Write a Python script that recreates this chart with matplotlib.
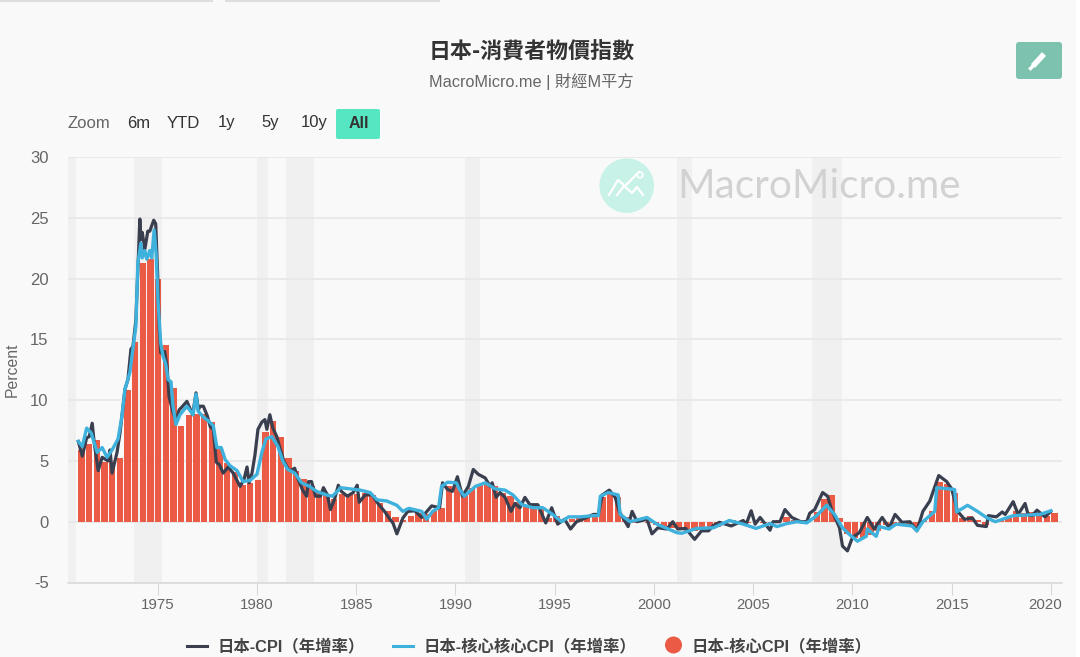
import matplotlib
matplotlib.use("Agg")
import matplotlib.pyplot as plt
from matplotlib.patches import Circle, FancyBboxPatch, Rectangle
from matplotlib.transforms import ScaledTranslation
import numpy as np

W = 1080
H = 657
CJK = ['Noto Sans CJK TC', 'DejaVu Sans']
LATIN = ['Liberation Sans', 'DejaVu Sans']
MIXED = ['Liberation Sans', 'Noto Sans CJK TC', 'DejaVu Sans']
plt.rcParams['axes.unicode_minus'] = False

# dark line: CPI
cpi_years = [1971.0, 1971.2, 1971.42, 1971.55, 1971.7, 1971.8, 1972.0, 1972.2, 1972.5, 1972.6, 1972.7, 1972.95,
             1973.1, 1973.35, 1973.5, 1973.65, 1973.75, 1973.9, 1974.1, 1974.15, 1974.22, 1974.35, 1974.5, 1974.6,
             1974.8, 1974.9, 1975.0, 1975.07, 1975.15, 1975.35, 1975.47, 1975.57, 1975.77, 1975.92, 1976.08, 1976.2,
             1976.47, 1976.6, 1976.76, 1976.93, 1977.05, 1977.13, 1977.3, 1977.5, 1977.65, 1977.8, 1977.95, 1978.1,
             1978.3, 1978.55, 1978.8, 1979.15, 1979.35, 1979.5, 1979.6, 1979.75, 1979.9, 1980.05, 1980.25, 1980.4,
             1980.5, 1980.65, 1980.8, 1981.0, 1981.15, 1981.35, 1981.55, 1981.7, 1981.9, 1982.05, 1982.3, 1982.5,
             1982.6, 1982.75, 1982.95, 1983.2, 1983.35, 1983.55, 1983.7, 1983.9, 1984.1, 1984.25, 1984.55, 1984.85,
             1985.05, 1985.15, 1985.45, 1985.8, 1986.1, 1986.45, 1986.7, 1986.85, 1987.05, 1987.35, 1987.6, 1987.95,
             1988.3, 1988.8, 1989.2, 1989.35, 1989.6, 1989.85, 1990.1, 1990.35, 1990.65, 1990.9, 1991.15, 1991.5,
             1991.75, 1991.85, 1992.05, 1992.25, 1992.5, 1992.8, 1993.0, 1993.25, 1993.5, 1993.75, 1994.15, 1994.55,
             1994.85, 1995.15, 1995.5, 1995.8, 1996.1, 1996.4, 1996.95, 1997.2, 1997.4, 1997.75, 1998.05, 1998.25,
             1998.7, 1998.9, 1999.15, 1999.65, 1999.9, 2000.2, 2000.65, 2000.95, 2001.2, 2001.6, 2002.05, 2002.4,
             2002.75, 2003.0, 2003.3, 2003.9, 2004.5, 2004.65, 2004.9, 2005.1, 2005.35, 2005.85, 2006.0, 2006.35,
             2006.6, 2006.95, 2007.4, 2007.7, 2007.85, 2008.1, 2008.5, 2008.75, 2008.95, 2009.35, 2009.5, 2009.75,
             2010.0, 2010.35, 2010.75, 2011.1, 2011.5, 2011.85, 2012.15, 2012.5, 2012.9, 2013.25, 2013.55, 2013.9,
             2014.35, 2014.75, 2015.0, 2015.3, 2015.65, 2016.05, 2016.3, 2016.75, 2016.85, 2017.25, 2017.55, 2017.7,
             2018.1, 2018.35, 2018.7, 2018.85, 2019.05, 2019.3, 2019.7, 2020.0]
cpi_values = [6.6, 5.4, 6.9, 7.0, 8.1, 6.5, 4.2, 5.3, 5.0, 5.9, 4.0, 5.7,
              7.3, 10.9, 11.7, 14.2, 14.4, 16.6, 24.9, 23.2, 23.8, 22.4, 23.9, 23.9,
              24.8, 24.5, 20.2, 16.1, 13.9, 14.0, 12.8, 10.3, 9.0, 8.3, 9.2, 9.4,
              9.9, 9.4, 8.8, 10.6, 9.2, 9.5, 9.5, 8.7, 7.8, 7.6, 4.9, 4.7,
              4.0, 4.5, 4.0, 2.9, 3.5, 4.5, 3.2, 4.0, 5.5, 7.6, 8.2, 8.4,
              7.6, 8.8, 7.7, 7.0, 6.1, 5.0, 4.4, 4.2, 4.4, 3.6, 2.6, 2.1,
              3.3, 3.3, 2.1, 2.1, 2.8, 2.2, 1.0, 1.8, 3.0, 2.5, 2.1, 2.4,
              3.0, 1.6, 2.2, 2.2, 1.5, 0.8, 0.2, -0.1, -1.0, 0.3, 0.85, 0.9,
              0.35, 1.3, 1.15, 3.2, 2.65, 2.5, 3.7, 2.1, 2.9, 4.3, 3.9, 3.6,
              2.9, 3.2, 2.0, 2.4, 2.0, 0.85, 1.5, 1.15, 2.0, 1.4, 1.4, -0.1,
              1.15, -0.2, 0.2, -0.6, 0.0, 0.2, 0.6, 0.6, 2.2, 2.6, 2.0, 0.85,
              -0.4, 0.85, 0.0, 0.2, -1.0, -0.5, -0.6, 0.0, -0.6, -0.55, -1.45, -0.75,
              -0.75, -0.3, -0.05, -0.35, 0.1, -0.2, 0.9, -0.2, 0.35, -0.7, 0.0, 0.0,
              1.0, 0.35, 0.0, 0.0, 0.7, 1.0, 2.4, 2.1, 1.0, -0.5, -2.0, -2.4,
              -1.3, -0.9, 0.35, -0.6, 0.35, -0.5, 0.6, -0.05, 0.0, -0.75, 0.85, 1.7,
              3.8, 3.3, 2.7, 0.85, 0.2, 0.3, -0.3, -0.4, 0.5, 0.4, 0.8, 0.6,
              1.65, 0.6, 1.5, 0.6, 0.5, 0.95, 0.4, 0.85]

# blue line: core core CPI
core_core_years = [1971.0, 1971.2, 1971.42, 1971.65, 1971.95, 1972.2, 1972.45, 1972.7, 1973.0, 1973.2, 1973.35, 1973.6,
                   1973.75, 1973.9, 1974.0, 1974.15, 1974.22, 1974.35, 1974.45, 1974.6, 1974.7, 1974.82, 1974.92, 1975.02,
                   1975.15, 1975.27, 1975.4, 1975.52, 1975.67, 1975.77, 1975.92, 1976.12, 1976.47, 1976.78, 1976.93, 1977.03,
                   1977.3, 1977.55, 1977.8, 1977.98, 1978.2, 1978.4, 1978.65, 1979.0, 1979.3, 1979.65, 1980.0, 1980.25,
                   1980.45, 1980.75, 1981.05, 1981.3, 1981.55, 1981.9, 1982.25, 1982.65, 1983.0, 1983.5, 1983.8, 1984.05,
                   1984.2, 1984.7, 1985.2, 1985.7, 1986.05, 1986.55, 1987.05, 1987.35, 1987.65, 1988.3, 1988.55, 1988.85,
                   1989.15, 1989.3, 1989.6, 1990.05, 1990.2, 1990.45, 1991.0, 1991.5, 1992.0, 1992.5, 1992.9, 1993.35,
                   1993.9, 1994.4, 1994.9, 1995.35, 1995.7, 1996.3, 1996.95, 1997.2, 1997.3, 1997.7, 1998.2, 1998.3,
                   1998.8, 1999.65, 2000.15, 2001.15, 2001.4, 2002.15, 2003.0, 2003.8, 2004.5, 2005.15, 2005.85, 2006.2,
                   2006.7, 2007.2, 2007.7, 2008.2, 2008.7, 2009.1, 2009.5, 2009.85, 2010.25, 2010.7, 2010.75, 2011.2,
                   2011.35, 2011.85, 2012.2, 2013.0, 2013.25, 2013.55, 2014.15, 2014.25, 2015.15, 2015.25, 2015.8, 2016.3,
                   2016.75, 2017.2, 2018.1, 2019.45, 2020.0]
core_core_values = [6.6, 6.2, 7.7, 7.3, 5.7, 6.1, 5.3, 5.9, 6.8, 8.7, 10.9, 12.3,
                    14.2, 16.1, 21.3, 22.9, 21.7, 22.3, 21.6, 22.3, 21.7, 24.0, 22.1, 18.0,
                    14.7, 13.6, 13.0, 11.7, 11.5, 9.5, 8.0, 8.8, 9.5, 8.8, 10.5, 9.1,
                    8.6, 8.3, 7.9, 6.1, 6.1, 5.1, 4.6, 4.2, 3.3, 3.4, 3.9, 5.7,
                    6.8, 7.0, 6.2, 5.0, 4.3, 4.0, 3.2, 2.9, 2.5, 2.2, 2.1, 2.5,
                    2.8, 2.7, 2.6, 2.4, 1.8, 1.7, 1.35, 0.85, 1.1, 0.85, 0.2, 0.85,
                    1.15, 2.9, 3.25, 3.2, 2.65, 2.1, 2.9, 3.2, 2.7, 2.6, 2.2, 1.4,
                    1.15, 1.15, 0.6, 0.0, 0.4, 0.4, 0.5, 0.5, 2.1, 2.4, 2.2, 0.6,
                    0.0, 0.35, -0.2, -0.9, -0.95, -0.55, -0.5, 0.1, -0.2, -0.55, -0.15, -0.4,
                    -0.15, 0.0, -0.1, 0.5, 1.35, 0.6, -0.5, -1.05, -1.6, -1.2, -0.6, -1.2,
                    -0.4, -0.6, -0.2, -0.35, -0.75, 0.0, 0.85, 2.8, 2.65, 0.8, 1.35, 0.85,
                    0.35, 0.0, 0.5, 0.6, 0.9]

# red bars: core CPI
core_values = [5.9, 6.4, 6.7, 4.9, 4.9, 5.2, 10.8, 14.8, 21.3, 21.6, 20.0, 14.5, 11.0, 7.9, 8.8, 8.9,
               8.9, 8.2, 6.0, 4.8, 4.1, 3.0, 3.2, 3.4, 7.4, 8.3, 7.0, 5.2, 4.2, 3.5, 2.9, 2.5,
               2.3, 1.9, 2.3, 2.3, 2.3, 2.4, 2.2, 1.5, 0.9, 0.4, 0.1, 0.5, 0.7, 0.6, 0.9, 1.1,
               2.9, 3.0, 2.2, 2.8, 3.1, 3.2, 2.9, 2.4, 2.1, 1.6, 1.3, 1.3, 1.2, 0.3, 0.5, 0.1,
               0.2, 0.3, 0.4, 0.5, 2.0, 2.4, 2.0, 0.4, -0.1, 0.0, -0.1, -0.3, -0.4, -0.5, -0.6, -0.8,
               -0.8, -0.7, -0.6, -0.4, -0.1, 0.1, -0.1, -0.1, 0.1, -0.1, -0.2, 0.1, 0.4, 0.1, -0.1, 0.0,
               0.8, 1.9, 2.2, 0.3, -1.0, -1.3, -1.3, -1.1, -0.8, -0.3, -0.3, -0.2, -0.3, -0.5, 0.1, 0.9,
               3.3, 3.1, 2.4, 0.3, 0.5, 0.1, -0.3, 0.0, 0.2, 0.4, 0.9, 0.7, 0.8, 0.6, 0.5, 0.7]
bar_start = 1971.0
bar_step = 0.386

recession_starts = [1970.48, 1973.82, 1980.02, 1981.46, 1990.48, 2001.15, 2007.95]
recession_ends = [1970.9, 1975.2, 1980.55, 1982.87, 1991.24, 2001.9, 2009.5]

x_ticks = [1975, 1980, 1985, 1990, 1995, 2000, 2005, 2010, 2015, 2020]
y_ticks = [-5, 0, 5, 10, 15, 20, 25, 30]

range_buttons = ["6m", "YTD", "1y", "5y", "10y"]
range_centers = [139, 183, 227, 270, 314]

legend_names = ["日本-CPI（年增率）", "日本-核心核心CPI（年增率）", "日本-核心CPI（年增率）"]

BG = "#f9f9f9"
fig = plt.figure(figsize=(W / 100, H / 100), dpi=100, facecolor=BG)

# page layer in pixel coordinates, under the plot
page = fig.add_axes([0, 0, 1, 1], zorder=0)
page.set_xlim(0, W)
page.set_ylim(H, 0)
page.axis("off")
page.add_patch(Rectangle((0, 0), 213, 2, color="#dedede", lw=0))
page.add_patch(Rectangle((225, 0), 215, 2, color="#dedede", lw=0))
page.add_patch(Rectangle((1076, 0), 4, H, color="#ffffff", lw=0))

page.text(532, 52, "日本-消費者物價指數", family=CJK, fontsize=15.8, fontweight="bold",
          color="#333333", ha="center", va="center")
page.text(531, 82, "MacroMicro.me | 財經M平方", family=MIXED, fontsize=11.7, color="#666666",
          ha="center", va="center")

page.add_patch(FancyBboxPatch((1018, 44), 42, 33, boxstyle="round,pad=2,rounding_size=3",
                              fc="#7cc2ae", ec="none"))
page.plot([1033, 1044], [66, 54], color="white", lw=4, solid_capstyle="butt")
page.plot([1030.5, 1032.5], [68.5, 66.5], color="white", lw=2.5)

page.text(68, 124, "Zoom", family=LATIN, fontsize=12, color="#666666", va="center")
for label, cx in zip(range_buttons, range_centers):
    page.text(cx, 123, label, family=LATIN, fontsize=12, color="#333333", ha="center", va="center")
page.add_patch(FancyBboxPatch((338, 111), 40, 26, boxstyle="round,pad=2,rounding_size=2",
                              fc="#57e6c2", ec="none"))
page.text(358.5, 123, "All", family=LATIN, fontsize=11.5, fontweight="bold", color="#333333",
          ha="center", va="center")

page.text(12, 369.5, "Percent", family=LATIN, fontsize=11.3, color="#666666", rotation=90,
          ha="center", va="center")

# legend
legend_size = 11.8
page.plot([187, 207], [646, 646], color="#3a3f50", lw=2.2)
page.text(217, 646, legend_names[0], family=MIXED, fontsize=legend_size, fontweight="bold", color="#444444", va="center")
page.plot([393, 413], [646, 646], color="#3eb1dc", lw=2.2)
page.text(423, 646, legend_names[1], family=MIXED, fontsize=legend_size, fontweight="bold", color="#444444", va="center")
page.add_patch(Circle((673.5, 645), 8.5, fc="#ea5a44", ec="none"))
page.text(692, 646, legend_names[2], family=MIXED, fontsize=legend_size, fontweight="bold", color="#444444", va="center")

# main plot
ax = fig.add_axes([68 / W, (H - 582.5) / H, 994 / W, 425.5 / H], zorder=1)
ax.patch.set_alpha(0)
ax.set_xlim(1970.48, 2020.56)
ax.set_ylim(-5, 30)

for start, end in zip(recession_starts, recession_ends):
    ax.axvspan(start, end, color="#f0f0f0", lw=0, zorder=0)

ax.set_yticks(y_ticks)
ax.set_xticks(x_ticks)
ax.grid(axis="y", color="#e6e6e6", lw=1.1, zorder=1)
for side in ["top", "left", "right"]:
    ax.spines[side].set_visible(False)
ax.spines["bottom"].set_color("#d8d8d8")
ax.spines["bottom"].set_linewidth(1.1)
ax.tick_params(axis="y", length=0, pad=14, labelsize=12, labelcolor="#666666")
ax.tick_params(axis="x", length=8.5, width=0.8, color="#d8d8d8", pad=3, labelsize=10.8, labelcolor="#666666")
for lab in ax.get_xticklabels() + ax.get_yticklabels():
    lab.set_family(LATIN)
# last year label is pushed back inside the chart
last = ax.get_xticklabels()[-1]
last.set_transform(last.get_transform() + ScaledTranslation(-5.5 / 100, 0, fig.dpi_scale_trans))

bar_years = bar_start + bar_step * np.arange(len(core_values))
ax.bar(bar_years, core_values, width=0.32, align="edge", color="#ea5a44", lw=0, zorder=2)
ax.plot(cpi_years, cpi_values, color="#3a3f50", lw=2.3, zorder=3)
ax.plot(core_core_years, core_core_values, color="#3eb1dc", lw=2.4, zorder=4)

# watermark on top of the bands
mark = fig.add_axes([0, 0, 1, 1], zorder=2)
mark.set_xlim(0, W)
mark.set_ylim(H, 0)
mark.axis("off")
mark.patch.set_alpha(0)
mark.add_patch(Circle((626.7, 185.7), 27.3, fc="#c8f2e8", ec="none"))
mark.plot([609, 618, 625, 632, 639], [195, 180, 186, 179, 172], color="white", lw=1.6)
mark.plot([617, 624, 632, 637, 643], [195, 186, 193, 187, 195], color="white", lw=1.6)
mark.add_patch(Circle((640, 175), 2.8, fc="#c8f2e8", ec="white", lw=1.2))
mark.text(677, 187, "MacroMicro.me", family=['Lato', 'DejaVu Sans'], fontsize=29.2, color="#d2d2d2", va="center")

fig.savefig("out.png", dpi=100, facecolor=BG)
